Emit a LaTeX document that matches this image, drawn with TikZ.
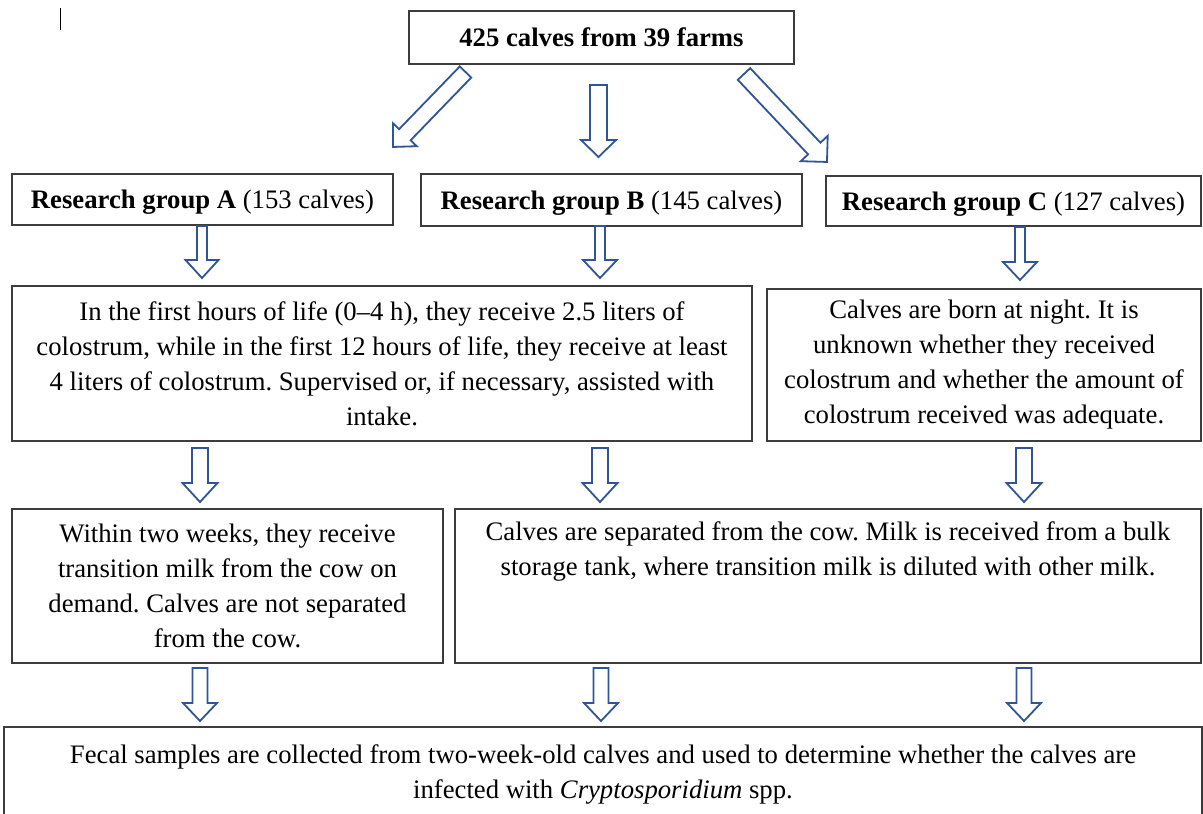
\documentclass[tikz,border=0pt]{standalone}
\usepackage{fontspec}
\setmainfont{Liberation Serif}
\usetikzlibrary{calc}
\definecolor{arrblue}{RGB}{47,85,151}
\definecolor{boxline}{RGB}{60,60,60}
\tikzset{
  box/.style={draw=boxline, line width=1.3pt, fill=white, inner sep=0pt, align=center,
    font=\fontsize{26.7}{35}\selectfont},
  grp/.style={box, text height=20pt, text depth=2pt},
  txt/.style={inner sep=0pt, align=center, font=\fontsize{26.7}{35}\selectfont},
  blockarr/.style={draw=arrblue, line width=1.8pt, fill=white, line join=miter},
}
% block arrow: #1 tail coordinate, #2 tip coordinate, #3 shaft half-width, #4 head half-width, #5 head length
\newcommand\barrow[5]{%
  \draw[blockarr] let \p1=(#1), \p2=(#2), \n1={atan2(\y2-\y1,\x2-\x1)},
    \n2={veclen(\x2-\x1,\y2-\y1)} in
    [shift={(\p1)}, rotate=\n1]
    (0,#3) -- ({\n2-#5},#3) -- ({\n2-#5},#4) -- ({\n2},0) -- ({\n2-#5},-#4)
    -- ({\n2-#5},-#3) -- (0,-#3) -- cycle;}
\begin{document}
\frenchspacing
\begin{tikzpicture}[x=1pt,y=-1pt]
\useasboundingbox (0,0) rectangle (1203,814);
\clip (0,0) rectangle (1203,814);
\fill[white] (0,0) rectangle (1203,814);

% stray cursor mark
\draw[line width=1.2pt, black] (60.5,8) -- (60.5,30);

% boxes
\node[box, minimum width=385pt, minimum height=53pt] (top) at (601.5,37.5)
  {\textbf{425 calves from 39 farms}};

\node[grp, minimum width=381pt, minimum height=51pt] (gA) at (202.5,199.5)
  {\textbf{Research group A} (153 calves)};
\node[grp, minimum width=381pt, minimum height=52pt] (gB) at (611.5,200)
  {\textbf{Research group B} (145 calves)};
\node[grp, minimum width=375pt, minimum height=50pt] (gC) at (1013.5,201)
  {\textbf{Research group C} (127 calves)};

\node[box, minimum width=740pt, minimum height=155pt] (AB) at (382,363.5)
  {In the first hours of life (0--4 h), they receive 2.5 liters of\\
   colostrum, while in the first 12 hours of life, they receive at least\\
   4 liters of colostrum. Supervised or, if necessary, assisted with\\
   intake.};
\node[box, minimum width=434pt, minimum height=152pt] (C1) at (984,365)
  {Calves are born at night. It is\\
   unknown whether they received\\
   colostrum and whether the amount of\\
   colostrum received was adequate.};

\node[box, minimum width=431pt, minimum height=154pt] (A2) at (227.5,586)
  {Within two weeks, they receive\\
   transition milk from the cow on\\
   demand. Calves are not separated\\
   from the cow.};
\node[box, minimum width=746pt, minimum height=154pt] (BC2) at (828,586) {};
\node[txt] (BC2t) at (828,551)
  {Calves are separated from the cow. Milk is received from a bulk\\
   storage tank, where transition milk is diluted with other milk.};

\node[box, minimum width=1198pt, minimum height=130pt] (F) at (603,792) {};
\node[txt] (Ft) at (603,774)
  {Fecal samples are collected from two-week-old calves and used to determine whether the calves are\\
   infected with \textit{Cryptosporidium} spp.};

% arrow end points
\coordinate (t1) at (465.5,72);  \coordinate (h1) at (393,147);
\coordinate (t2) at (598.5,85);  \coordinate (h2) at (598.5,157);
\coordinate (t3) at (744,74);    \coordinate (h3) at (827,162);

\coordinate (a1t) at (202,226);  \coordinate (a1h) at (202,278);
\coordinate (b1t) at (600,226);  \coordinate (b1h) at (600,278);
\coordinate (c1t) at (1020,227); \coordinate (c1h) at (1020,280);

\coordinate (a2t) at (200,448);  \coordinate (a2h) at (200,502);
\coordinate (b2t) at (600,448);  \coordinate (b2h) at (600,502);
\coordinate (c2t) at (1024,448); \coordinate (c2h) at (1024,502);

\coordinate (a3t) at (200,668);  \coordinate (a3h) at (200,721);
\coordinate (b3t) at (601,668);  \coordinate (b3h) at (601,721);
\coordinate (c3t) at (1024,668); \coordinate (c3h) at (1024,721);

% arrows
\barrow{t1}{h1}{8}{16.5}{17}
\barrow{t2}{h2}{8.5}{17.5}{17}
\barrow{t3}{h3}{8.5}{18.5}{18.5}

\barrow{a1t}{a1h}{5}{16.5}{18}
\barrow{b1t}{b1h}{5}{17}{18}
\barrow{c1t}{c1h}{5}{17}{18}

\barrow{a2t}{a2h}{8}{17.5}{19}
\barrow{b2t}{b2h}{8}{17.5}{19}
\barrow{c2t}{c2h}{8}{17.5}{19}

\barrow{a3t}{a3h}{7.5}{17}{18}
\barrow{b3t}{b3h}{7.5}{17}{18}
\barrow{c3t}{c3h}{7.5}{17}{18}
\end{tikzpicture}
\end{document}
